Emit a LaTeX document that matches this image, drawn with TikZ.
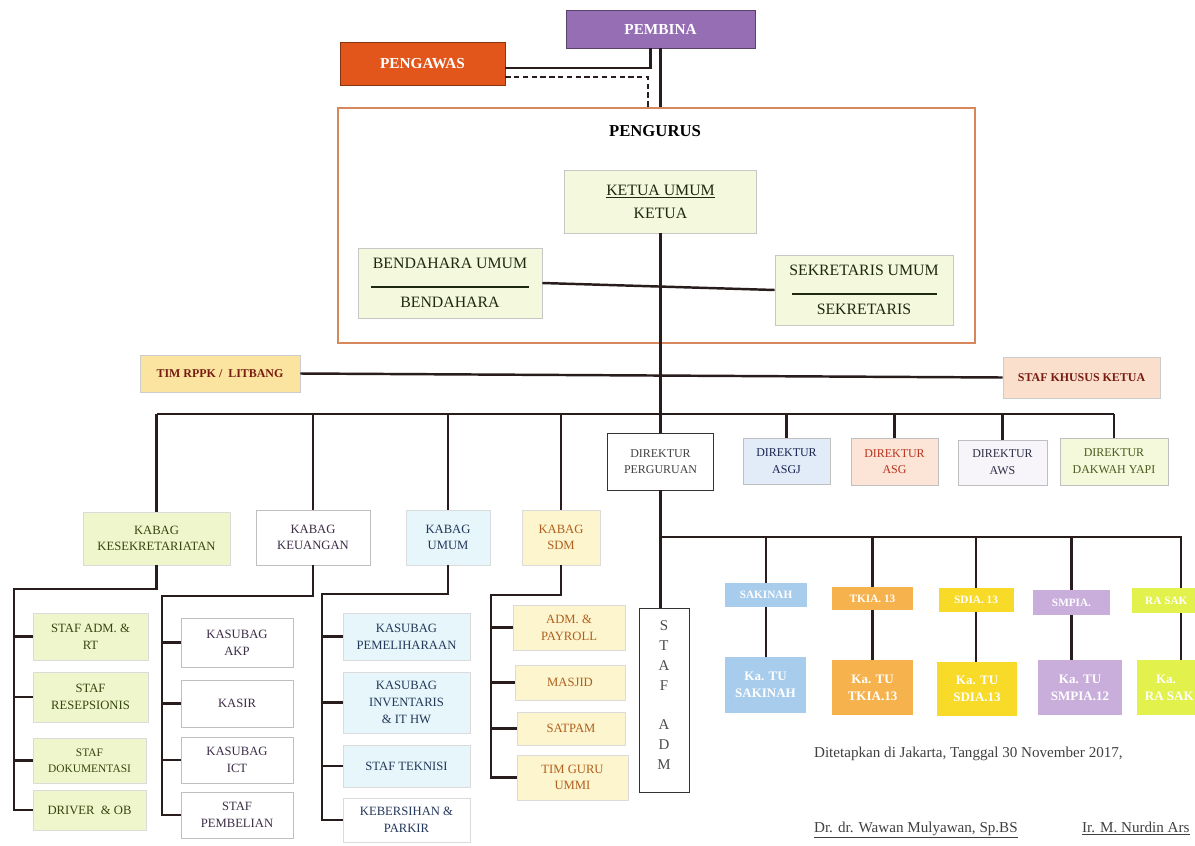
\documentclass[tikz,border=0pt]{standalone}
\usepackage{fontspec}
\setmainfont{Liberation Serif}
\usepackage{tikz}
\usetikzlibrary{calc}
\usepackage{xcolor}
\definecolor{lnc}{RGB}{40,28,28}
\definecolor{pembc}{RGB}{150,110,180}
\definecolor{pengc}{RGB}{226,86,28}
\definecolor{framec}{RGB}{214,135,92}
\definecolor{pgfill}{RGB}{244,249,222}
\definecolor{pgtext}{RGB}{30,40,15}
\definecolor{timfill}{RGB}{250,228,160}
\definecolor{skkfill}{RGB}{251,223,205}
\definecolor{lbtext}{RGB}{120,28,18}
\definecolor{sekfill}{RGB}{240,246,204}
\definecolor{sektext}{RGB}{55,70,15}
\definecolor{keutext}{RGB}{60,45,70}
\definecolor{umfill}{RGB}{230,246,250}
\definecolor{umtext}{RGB}{35,55,90}
\definecolor{sdmfill}{RGB}{253,245,205}
\definecolor{sdmtext}{RGB}{175,95,30}
\definecolor{asgjfill}{RGB}{226,236,248}
\definecolor{asgjtext}{RGB}{25,35,80}
\definecolor{asgfill}{RGB}{252,228,214}
\definecolor{asgtext}{RGB}{185,50,30}
\definecolor{awsfill}{RGB}{247,244,250}
\definecolor{awstext}{RGB}{45,45,70}
\definecolor{dakfill}{RGB}{243,249,218}
\definecolor{daktext}{RGB}{75,90,30}
\definecolor{sakc}{RGB}{168,204,236}
\definecolor{tkc}{RGB}{246,178,77}
\definecolor{sdc}{RGB}{248,218,40}
\definecolor{smpc}{RGB}{201,174,219}
\definecolor{rac}{RGB}{226,241,75}

\begin{document}
\begin{tikzpicture}[x=0.02cm, y=-0.02cm,
  every node/.style={align=center, inner sep=1pt},
  ln/.style={draw=lnc, line width=1.4pt},
  hbox/.style={draw=#1!60!black, fill=#1, text=white,
    font=\bfseries\fontsize{8.7}{10}\selectfont},
  pgbox/.style={draw=black!22, fill=pgfill, text=pgtext,
    font=\fontsize{9}{11}\selectfont},
  lbox/.style={draw=black!20, fill=#1, text=lbtext,
    font=\bfseries\fontsize{6.8}{8}\selectfont},
  ubox/.style 2 args={draw=black!14, fill=#1, text=#2,
    font=\fontsize{7.2}{9.5}\selectfont},
  dbox/.style 2 args={draw=black!25, fill=#1, text=#2,
    font=\fontsize{6.8}{9.5}\selectfont},
  sbox/.style={fill=#1, text=white,
    font=\bfseries\fontsize{6.4}{9}\selectfont},
  kbox/.style={fill=#1, text=white,
    font=\bfseries\fontsize{7.4}{9.5}\selectfont},
  txt/.style={text=black!75, font=\fontsize{8.6}{10}\selectfont}
]
  \useasboundingbox (0,0) rectangle (1195,845);
  \clip (0,0) rectangle (1195,845);

  % pembina / pengawas / pengurus
  \node[hbox=pembc, minimum width=3.78cm, minimum height=0.76cm] (pemb) at (660.5,29) {PEMBINA};
  \node[hbox=pengc, minimum width=3.3cm, minimum height=0.86cm] (peng) at (422.5,63.5) {PENGAWAS};
  \node[draw=framec, line width=1.1pt, minimum width=12.74cm, minimum height=4.7cm] (pgr) at (656.5,225.5) {};
  \node[font=\bfseries\fontsize{9.5}{11}\selectfont] (pgrlbl) at (655,131) {PENGURUS};

  \node[pgbox, minimum width=3.84cm, minimum height=1.26cm] (ketua) at (660.5,201.5) {\underline{KETUA UMUM}\\[2pt]KETUA};
  \node[pgbox, minimum width=3.68cm, minimum height=1.4cm] (bend) at (450,283) {BENDAHARA UMUM\\\rule{3.16cm}{1pt}\\BENDAHARA};
  \node[pgbox, minimum width=3.56cm, minimum height=1.4cm] (sekr) at (864,290) {SEKRETARIS UMUM\\\rule{2.9cm}{1pt}\\SEKRETARIS};

  \node[lbox=timfill, minimum width=3.2cm, minimum height=0.74cm] (tim) at (220,373.5) {TIM RPPK /\ \ LITBANG};
  \node[lbox=skkfill, minimum width=3.14cm, minimum height=0.82cm] (skk) at (1081.5,377.5) {STAF KHUSUS KETUA};

  % direktur
  \node[dbox={white}{black!75}, draw=black!80, minimum width=2.12cm, minimum height=1.14cm] (dirperg) at (660.5,461.5) {DIREKTUR\\PERGURUAN};
  \node[dbox={asgjfill}{asgjtext}, minimum width=1.74cm, minimum height=0.92cm] (dasgj) at (786.5,461) {DIREKTUR\\ASGJ};
  \node[dbox={asgfill}{asgtext}, minimum width=1.74cm, minimum height=0.94cm] (dasg) at (894.5,461.5) {DIREKTUR\\ASG};
  \node[dbox={awsfill}{awstext}, minimum width=1.78cm, minimum height=0.9cm] (daws) at (1002.5,462.5) {DIREKTUR\\AWS};
  \node[dbox={dakfill}{daktext}, minimum width=2.16cm, minimum height=0.94cm] (ddak) at (1114,461.5) {DIREKTUR\\DAKWAH YAPI};

  % kabag
  \node[ubox={sekfill}{sektext}, minimum width=2.94cm, minimum height=1.06cm] (ksek) at (156.5,538.5) {KABAG\\KESEKRETARIATAN};
  \node[ubox={white}{keutext}, draw=black!25, minimum width=2.28cm, minimum height=1.1cm] (kkeu) at (313,537.5) {KABAG\\KEUANGAN};
  \node[ubox={umfill}{umtext}, minimum width=1.68cm, minimum height=1.1cm] (kum) at (448,537.5) {KABAG\\UMUM};
  \node[ubox={sdmfill}{sdmtext}, minimum width=1.56cm, minimum height=1.1cm] (ksdm) at (561,537.5) {KABAG\\SDM};

  % staf kesekretariatan
  \node[ubox={sekfill}{sektext}, minimum width=2.3cm, minimum height=0.94cm] (sadm) at (90.5,636.5) {STAF ADM. \&\\RT};
  \node[ubox={sekfill}{sektext}, minimum width=2.3cm, minimum height=1cm] (sres) at (90.5,697) {STAF\\RESEPSIONIS};
  \node[ubox={sekfill}{sektext}, font=\fontsize{6.5}{9}\selectfont, minimum width=2.26cm, minimum height=0.9cm] (sdok) at (89.5,760.5) {STAF\\DOKUMENTASI};
  \node[ubox={sekfill}{sektext}, minimum width=2.26cm, minimum height=0.8cm] (sdrv) at (89.5,810) {DRIVER\ \ \& OB};

  % staf keuangan
  \node[ubox={white}{keutext}, draw=black!25, minimum width=2.24cm, minimum height=0.98cm] (kakp) at (237,642.5) {KASUBAG\\AKP};
  \node[ubox={white}{keutext}, draw=black!25, minimum width=2.24cm, minimum height=0.94cm] (kasir) at (237,703.5) {KASIR};
  \node[ubox={white}{keutext}, draw=black!25, minimum width=2.24cm, minimum height=0.92cm] (kict) at (237,760) {KASUBAG\\ICT};
  \node[ubox={white}{keutext}, draw=black!25, minimum width=2.24cm, minimum height=0.92cm] (kpemb) at (237,815) {STAF\\PEMBELIAN};

  % staf umum
  \node[ubox={umfill}{umtext}, minimum width=2.54cm, minimum height=0.94cm] (upem) at (406.5,636.5) {KASUBAG\\PEMELIHARAAN};
  \node[ubox={umfill}{umtext}, minimum width=2.54cm, minimum height=1.22cm] (uinv) at (406.5,702.5) {KASUBAG\\INVENTARIS\\\& IT HW};
  \node[ubox={umfill}{umtext}, minimum width=2.54cm, minimum height=0.84cm] (utek) at (406.5,766) {STAF TEKNISI};
  \node[ubox={white}{umtext}, minimum width=2.54cm, minimum height=0.88cm] (uber) at (406.5,820) {KEBERSIHAN \&\\PARKIR};

  % staf sdm
  \node[ubox={sdmfill}{sdmtext}, minimum width=2.24cm, minimum height=0.9cm] (sdpay) at (569,627.5) {ADM. \&\\PAYROLL};
  \node[ubox={sdmfill}{sdmtext}, minimum width=2.2cm, minimum height=0.7cm] (sdmas) at (570,682.5) {MASJID};
  \node[ubox={sdmfill}{sdmtext}, minimum width=2.16cm, minimum height=0.66cm] (sdsat) at (571,728.5) {SATPAM};
  \node[ubox={sdmfill}{sdmtext}, minimum width=2.22cm, minimum height=0.9cm] (sdgur) at (572.5,777.5) {TIM GURU\\UMMI};

  % staf adm perguruan
  \node[draw=black!80, fill=white, text=black!70, font=\fontsize{8.5}{11.3}\selectfont,
    minimum width=1cm, minimum height=3.68cm] (stafadm) at (664,700) {S\\T\\A\\F\\[11.3pt]A\\D\\M\\[-5.7pt]};

  % sekolah
  \node[sbox=sakc, minimum width=1.64cm, minimum height=0.48cm] (ssak) at (766,595) {SAKINAH};
  \node[sbox=tkc, minimum width=1.62cm, minimum height=0.46cm] (stk) at (872.5,598.5) {TKIA. 13};
  \node[sbox=sdc, minimum width=1.5cm, minimum height=0.48cm] (ssd) at (976,600) {SDIA. 13};
  \node[sbox=smpc, minimum width=1.54cm, minimum height=0.5cm] (ssmp) at (1071.5,602.5) {SMPIA.};
  \node[sbox=rac, minimum width=1.26cm, minimum height=0.5cm] (sra) at (1163.5,600.5) {\ \ RA SAK};

  \node[kbox=sakc, minimum width=1.62cm, minimum height=1.12cm] (ktsak) at (765.5,685) {Ka. TU\\SAKINAH};
  \node[kbox=tkc, minimum width=1.62cm, minimum height=1.1cm] (kttk) at (872.5,687.5) {Ka. TU\\TKIA.13};
  \node[kbox=sdc, minimum width=1.6cm, minimum height=1.08cm] (ktsd) at (977,689) {Ka. TU\\SDIA.13};
  \node[kbox=smpc, minimum width=1.68cm, minimum height=1.1cm] (ktsmp) at (1080,687.5) {Ka. TU\\SMPIA.12};
  \node[kbox=rac, minimum width=1.16cm, minimum height=1.1cm] (ktra) at (1166,687.5) {Ka.\\\ \ RA SAK};

  % garis atas
  \draw[ln] ([xshift=-0.2cm]pemb.south) |- ([yshift=-0.09cm]peng.east);
  \draw[ln] (pemb.south) -- (pemb.south |- pgr.north);
  \draw[ln, dash pattern=on 3pt off 2pt] ([yshift=-0.27cm]peng.east) -| ($(pemb.south |- pgr.north)+(-12.5,0)$);
  \draw[ln] (ketua.south) -- (dirperg.north);
  \draw[ln] (bend.east) -- (sekr.west);
  \draw[ln] (tim.east) -- (skk.west);

  \coordinate (mbus) at (660.5,414);
  \draw[ln] (ksek.north |- mbus) -- (ddak.north |- mbus);
  \foreach \n in {ksek,kkeu,kum,ksdm,dasgj,dasg,daws,ddak}
    \draw[ln] (\n.north |- mbus) -- (\n.north);

  % garis kabag ke staf
  \coordinate (sekbus) at (14,589);
  \draw[ln] (ksek.south) |- (sekbus) -- (sekbus |- sdrv.west) -- (sdrv.west);
  \foreach \n in {sadm,sres,sdok}
    \draw[ln] (sekbus |- \n.west) -- (\n.west);

  \coordinate (keubus) at (162,596);
  \draw[ln] (kkeu.south) |- (keubus) -- (keubus |- kpemb.west) -- (kpemb.west);
  \foreach \n in {kakp,kasir,kict}
    \draw[ln] (keubus |- \n.west) -- (\n.west);

  \coordinate (umbus) at (322,594);
  \draw[ln] (kum.south) |- (umbus) -- (umbus |- uber.west) -- (uber.west);
  \foreach \n in {upem,uinv,utek}
    \draw[ln] (umbus |- \n.west) -- (\n.west);

  \coordinate (sdmbus) at (491,595);
  \draw[ln] (ksdm.south) |- (sdmbus) -- (sdmbus |- sdgur.west) -- (sdgur.west);
  \foreach \n in {sdpay,sdmas,sdsat}
    \draw[ln] (sdmbus |- \n.west) -- (\n.west);

  % garis perguruan
  \draw[ln] (dirperg.south) -- (dirperg.south |- stafadm.north);
  \coordinate (sbus) at (660.5,537);
  \coordinate (raend) at (1181,537);
  \draw[ln] (sbus) -- (raend) -- (raend |- sra.north);
  \foreach \n in {ssak,stk,ssd,ssmp}
    \draw[ln] (\n.north |- sbus) -- (\n.north);
  \foreach \s/\k in {ssak/ktsak,stk/kttk,ssd/ktsd,ssmp/ktsmp}
    \draw[ln] (\s.south) -- (\s.south |- \k.north);
  \draw[ln] (raend |- sra.south) -- (raend |- ktra.north);

  % pengesahan
  \node[txt, anchor=base west] (dit) at (812,757) {Ditetapkan di Jakarta, Tanggal 30 November 2017,};
  \node[txt, anchor=base west] (sig1) at (812,832) {\underline{Dr. dr. Wawan Mulyawan, Sp.BS}};
  \node[txt, anchor=base west] (sig2) at (1080,832) {\underline{Ir. M. Nurdin Ars}};
\end{tikzpicture}
\end{document}
